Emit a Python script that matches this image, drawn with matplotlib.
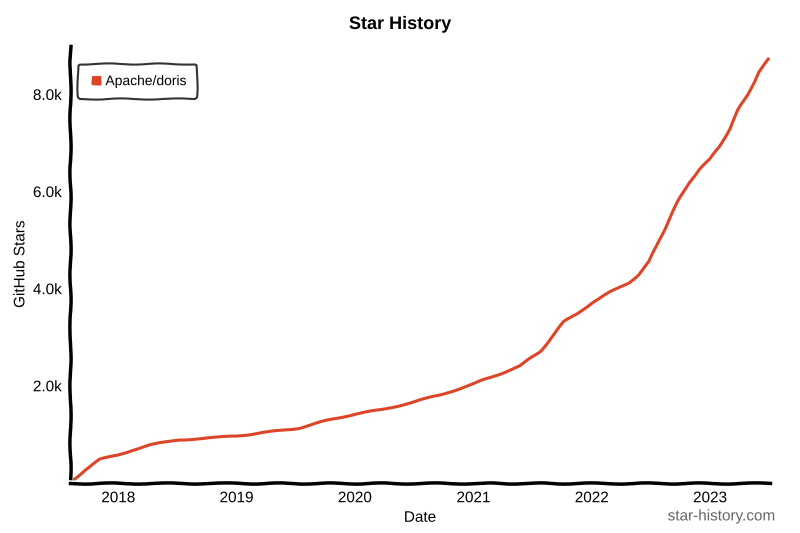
import matplotlib
matplotlib.use("Agg")
import matplotlib.pyplot as plt
import matplotlib.dates as mdates
from matplotlib.lines import Line2D
import pandas as pd

# star counts
dates = ["2017-08-05", "2017-09-20", "2017-11-05", "2018-01-01", "2018-02-15", "2018-04-10",
         "2018-07-08", "2018-09-15", "2018-11-15", "2019-01-01", "2019-04-15", "2019-07-12",
         "2019-10-05", "2020-01-01", "2020-03-20", "2020-06-20", "2020-09-20", "2021-01-01",
         "2021-03-25", "2021-05-25", "2021-07-25", "2021-09-05", "2021-10-08", "2021-11-20",
         "2022-01-01", "2022-02-25", "2022-04-25", "2022-05-25", "2022-06-28", "2022-07-28",
         "2022-08-28", "2022-09-28", "2022-10-28", "2022-11-28", "2023-01-01", "2023-01-30",
         "2023-03-01", "2023-03-30", "2023-04-28", "2023-05-30", "2023-07-01"]
stars = [0, 270, 480, 580, 680, 780,
         890, 910, 940, 970, 1050, 1130,
         1280, 1420, 1500, 1650, 1810, 2040,
         2250, 2410, 2700, 3050, 3320, 3500,
         3710, 3920, 4120, 4290, 4560, 5010,
         5420, 5840, 6190, 6450, 6660, 6930,
         7280, 7690, 8000, 8450, 8720]
series_name = "Apache/doris"
line_color = "#dd4528"

x = pd.to_datetime(dates)

with plt.xkcd(scale=0.6, length=60, randomness=2):
    plt.rcParams["font.family"] = ["Liberation Sans", "DejaVu Sans"]
    fig = plt.figure(figsize=(8, 5.33), dpi=100)
    ax = fig.add_axes([0.0875, 0.094, 0.875, 0.82])
    ax.plot(x, stars, color=line_color, linewidth=2.2)

    ax.set_xlim(pd.Timestamp("2017-08-05"), pd.Timestamp("2023-07-05"))
    ax.set_ylim(0, 9000)
    ax.xaxis.set_major_locator(mdates.YearLocator())
    ax.xaxis.set_major_formatter(mdates.DateFormatter("%Y"))
    ax.set_yticks([2000, 4000, 6000, 8000])
    ax.set_yticklabels(["2.0k", "4.0k", "6.0k", "8.0k"])
    ax.tick_params(length=0, labelsize=11, pad=6)

    for s in ["top", "right"]:
        ax.spines[s].set_visible(False)
    for s in ["left", "bottom"]:
        ax.spines[s].set_linewidth(2.5)
        ax.spines[s].set_color("black")

    ax.set_xlabel("Date", fontsize=11, labelpad=4)
    ax.set_ylabel("GitHub Stars", fontsize=11, labelpad=4)
    fig.suptitle("Star History", fontsize=13, fontweight="bold", y=0.97)

    handle = Line2D([], [], linestyle="none", marker="s", markersize=6,
                    markerfacecolor=line_color, markeredgecolor=line_color)
    leg = ax.legend([handle], [series_name], loc="upper left", fontsize=10,
                    borderpad=0.75, handletextpad=0.2, handlelength=1.0, frameon=True,
                    bbox_to_anchor=(0.002, 0.975))
    leg.get_frame().set_edgecolor("black")
    leg.get_frame().set_linewidth(1.5)

    fig.text(0.968, 0.018, "star-history.com", ha="right", va="bottom", fontsize=11, color="#666666")

    fig.savefig("out.png", dpi=100)
